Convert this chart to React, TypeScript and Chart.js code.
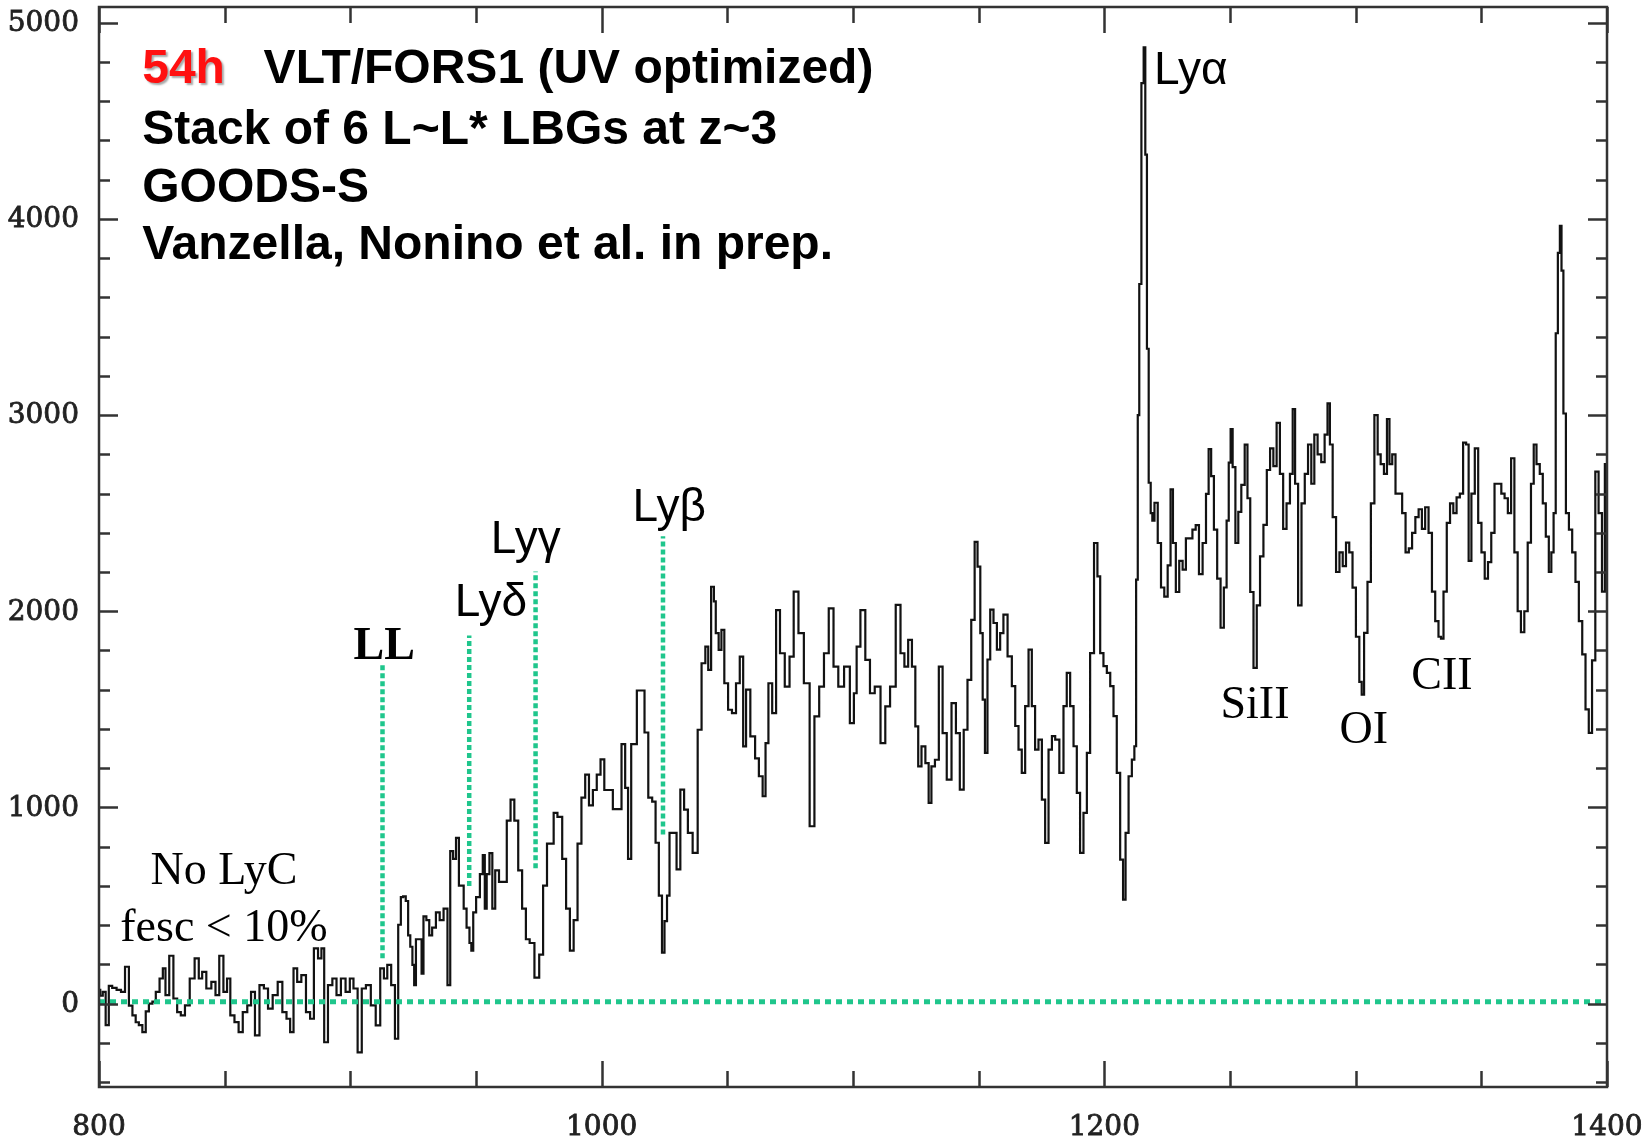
import React, { useEffect, useRef } from "react";
import { Chart, registerables } from "chart.js";

Chart.register(...registerables);

// ---------- axis ranges and ticks ----------
const X_RANGE = [800, 1400];
const Y_RANGE = [-425, 5080];
const xMajorTicks = [800, 1000, 1200, 1400];
const xMinorTicks = [850, 900, 950, 1050, 1100, 1150, 1250, 1300, 1350];
const yMajorTicks = [0, 1000, 2000, 3000, 4000, 5000];
const yMinorTicks = [-400, -200, 200, 400, 600, 800, 1200, 1400, 1600, 1800, 2200, 2400, 2600, 2800, 3200, 3400, 3600, 3800, 4200, 4400, 4600, 4800];

// ---------- spectrum: [rest wavelength (Å), flux] ----------
const lymanContinuum: [number, number][] = [
  [800, 70], [801, 40], [802, 60], [803.3, -110], [804.5, 90], [806, 80], [808, 70], [809.5, 60], [811.2, 188], [812.6, -10],
  [814, -60], [815.2, -95], [816.5, -110], [818, -145], [819.2, -40], [820.5, 0], [822, 10], [823.2, 60], [825, 128], [825.8, 180],
  [827.1, 43], [828.8, 244], [830.4, 26], [831.8, -43], [833.3, -60], [835.1, -9], [837.1, 128], [839, 231], [840.4, 128], [841.7, 162],
  [843.7, 77], [845.7, 111], [847, 43], [848.7, 244], [850.3, 60], [851.6, 128], [852.9, -60], [854.9, -94], [856.2, -145], [858.2, -43],
  [859.8, -9], [861.2, 60], [862.9, -162], [864.8, 94], [866.4, 77], [868.1, -26], [870.1, 43], [872.1, 111], [873.8, -43], [875.4, -77],
  [876.7, -145], [878.1, 180], [879.6, 111], [881.4, 145], [883.3, -43], [884.7, -77], [886.3, 282], [888, 231], [889, 282], [890.2, -197],
  [892, 94], [893.7, 128], [895.3, 43], [897.2, 128], [899, 60], [900.6, 128], [901.9, 77], [903.9, -248], [905.2, 77], [907.2, 94],
  [909.1, -9], [911.1, -111], [912.7, 180], [914, 128], [915.4, 197], [917.1, 94], [918.4, -179],
];

const lymanForest: [number, number][] = [
  [919.7, 402], [920.5, 543], [921.5, 547], [922.6, 523], [923.4, 348], [924.3, 290], [925.1, 197], [925.7, 94], [926.5, 328], [928, 328],
  [928.7, 153], [929.5, 445], [931, 426], [931.8, 348], [933.3, 387], [934.8, 465], [936.3, 426], [937.9, 484], [939.4, 94], [940.1, 777],
  [941.7, 738], [942.4, 845], [944, 601], [944.7, 601], [945.5, 484], [947, 387], [947.8, 309], [948.5, 270], [949.3, 465], [950.8, 543],
  [952.3, 660], [953.1, 757], [953.9, 484], [954.6, 660], [956.1, 767], [956.9, 484], [958.4, 679], [959.9, 621], [961.5, 621], [963, 933],
  [964.5, 1040], [966, 933], [967.6, 679], [969.1, 484], [970.6, 328], [972.1, 309], [974.4, 133], [975.9, 250], [977.5, 601], [979, 816],
  [980.5, 816], [981.3, 972], [983.5, 952], [985.1, 738], [986.6, 484], [988.1, 270], [989.6, 426], [991.2, 816], [992.7, 1050], [994.2, 1167],
  [995.7, 1011], [997.3, 1089], [998.8, 1167], [1000.3, 1245], [1001.8, 1089], [1003.3, 1089], [1005.6, 991], [1007.1, 991], [1008.7, 1323], [1010, 1100],
  [1011, 738], [1012.5, 1323], [1013.2, 1323], [1014.8, 1596], [1016.3, 1596], [1017.8, 1382], [1019.3, 1050], [1020.9, 1030], [1022, 820], [1023.5, 550],
  [1024.5, 260], [1025.5, 420], [1026.5, 550], [1027.5, 870], [1029, 870], [1030.6, 684], [1032, 1091], [1033.6, 989], [1035, 870], [1037.4, 768],
  [1039, 1396], [1040.5, 1735], [1042, 1820], [1042.8, 1701], [1044.3, 2125], [1045, 2050], [1045.8, 1888], [1047.3, 1803], [1048, 1905], [1049.6, 1633],
  [1051, 1498], [1052.7, 1481], [1054.2, 1633], [1055.7, 1769], [1056.9, 1311], [1058, 1600], [1060.3, 1362], [1061.8, 1250], [1063.3, 1159], [1064.8, 1057],
  [1065.6, 1328], [1067.1, 1633], [1068.6, 1481], [1070.2, 2006], [1071.7, 1786], [1074, 1616], [1075.5, 1769], [1077.3, 2100], [1079.3, 1888], [1081.6, 1633],
  [1083.9, 904], [1085.4, 1464], [1087.7, 1616], [1089.2, 1786], [1091.5, 2015], [1093, 1718], [1095.3, 1616], [1097.6, 1718], [1099.9, 1430], [1100.8, 1582],
  [1102.1, 1820], [1103.8, 2006], [1106, 1752], [1107.5, 1582], [1109.8, 1616], [1112.1, 1328], [1113.6, 1515], [1115.9, 1616], [1118.1, 2032], [1119.7, 1786],
  [1121.2, 1718], [1122.7, 1854], [1124.2, 1718], [1125.4, 1413], [1126.5, 1209], [1128, 1311], [1129.6, 1226], [1130.6, 1023], [1131.8, 1209], [1133.4, 1243],
  [1134.9, 1718], [1136.4, 1379], [1138.2, 1142], [1140.2, 1532], [1141.7, 1379], [1143.3, 1091], [1144.8, 1396], [1146.3, 1650], [1147.8, 1956], [1149, 2354],
  [1150.1, 2227], [1151.2, 1888], [1152, 1550], [1153, 1278], [1154, 1754], [1155.2, 2008], [1156.6, 1940], [1157.9, 1804], [1159.2, 1889], [1160.5, 1983],
  [1162.5, 1770], [1163.9, 1618], [1165.2, 1415], [1166.5, 1295], [1167.8, 1176], [1169.2, 1516], [1170.5, 1804], [1171.8, 1516], [1173.1, 1295], [1174.5, 1346],
  [1175.8, 1040], [1177.1, 819], [1178.5, 1295], [1179.8, 1363], [1181.1, 1346], [1183.1, 1176], [1184.4, 1516], [1185.7, 1686], [1187.1, 1516], [1188.4, 1312],
  [1189.7, 1074], [1191, 768], [1192.4, 972], [1193.7, 1278], [1195, 1787], [1196.8, 2348], [1197.7, 2178], [1199, 1787], [1200.3, 1720], [1201.7, 1686],
  [1203, 1618], [1204.3, 1465], [1205.6, 1176], [1207, 734], [1207.9, 530], [1209, 870], [1210.3, 1159], [1211.6, 1244], [1212.3, 1312],
];

const redContinuum: [number, number][] = [
  [1213, 2161], [1213.6, 3000], [1214.2, 3668], [1215.3, 4692], [1216, 4874], [1216.6, 4328], [1217.3, 3338], [1218, 2655], [1218.9, 2500], [1219.3, 2462],
  [1220.6, 2553], [1221.9, 2348], [1223.2, 2121], [1224.5, 2075], [1225.9, 2234], [1226.8, 2621], [1227.8, 2348], [1229.1, 2098], [1230.5, 2257], [1231.8, 2212],
  [1233.1, 2371], [1234.4, 2371], [1235.7, 2416], [1237, 2439], [1238.3, 2189], [1239.9, 2348], [1241, 2598], [1242, 2826], [1243, 2689], [1244.2, 2416],
  [1245.6, 2166], [1246.9, 1916], [1248.2, 2121], [1249.1, 2462], [1249.9, 2758], [1250.6, 2928], [1251.5, 2735], [1252.8, 2348], [1253.8, 2507], [1255.2, 2644],
  [1256.5, 2849], [1257.4, 2576], [1258.7, 2098], [1260, 1711], [1261.3, 2030], [1262.6, 2280], [1264, 2440], [1265.3, 2720], [1266.6, 2830], [1267.9, 2740],
  [1269.2, 2960], [1270.5, 2700], [1271.8, 2420], [1273.2, 2550], [1274.5, 2700], [1275.4, 3030], [1276.4, 2650], [1277.8, 2030], [1279.1, 2550], [1280.4, 2700],
  [1281.7, 2850], [1283, 2650], [1284.1, 2900], [1285.6, 2800], [1287, 2760], [1288.3, 2900], [1289.3, 3060], [1290.2, 2850], [1291.5, 2480], [1292.9, 2200],
  [1294.2, 2300], [1295.5, 2230], [1296.8, 2350], [1298.1, 2300], [1299.4, 2120], [1300.8, 1870], [1302.1, 1640], [1302.7, 1575], [1304, 1890], [1305.4, 2150],
  [1306.7, 2550], [1308.2, 3000], [1309.3, 2800], [1310.6, 2750], [1311.9, 2700], [1313, 2980], [1313.9, 2750], [1315.2, 2800], [1316.5, 2600], [1317.8, 2600],
  [1319.2, 2500], [1320.5, 2300], [1321.8, 2320], [1323.1, 2400], [1324.4, 2480], [1325.7, 2520], [1327, 2420], [1328.3, 2530], [1329.7, 2400], [1331, 2100],
  [1332.3, 1950], [1333.6, 1870], [1334.3, 1860], [1335.6, 2100], [1336.9, 2450], [1338.2, 2550], [1339.5, 2500], [1340.8, 2580], [1342.1, 2600], [1343.4, 2860],
  [1344.5, 2850], [1345.4, 2257], [1346.7, 2600], [1348.1, 2830], [1349.4, 2450], [1350.7, 2300], [1352, 2166], [1353.3, 2250], [1354.6, 2400], [1355.9, 2650],
  [1357.3, 2650], [1358.6, 2600], [1359.9, 2576], [1361.2, 2500], [1362.5, 2780], [1363.8, 2300], [1365.1, 2000], [1366.4, 1893], [1367.8, 2000], [1369.1, 2350],
  [1370.4, 2650], [1371.3, 2850], [1372.6, 2750], [1373.9, 2700], [1375, 2550], [1376.3, 2380], [1377.4, 2200], [1378.3, 2300], [1379.2, 2500], [1380, 3417],
  [1380.9, 3827], [1381.6, 3964], [1382.2, 3736], [1383.1, 3008], [1384.2, 2500], [1385.5, 2416], [1386.8, 2300], [1388.1, 2150], [1389.5, 1950], [1390.8, 1780],
  [1392.1, 1500], [1393.4, 1380], [1394.7, 1750], [1396, 2712], [1397.3, 2500], [1398.7, 2100], [1399.6, 2750], [1400, 2200],
];

// ---------- marker lines: [wavelength, bottom flux, top flux] ----------
const lymanMarkers: [number, number, number][] = [
  [912.8, 231, 1735], // LL
  [947.3, 600, 1877], // Lyδ
  [973.7, 690, 2202], // Lyγ
  [1024.4, 862, 2382], // Lyβ
];
const zeroLevel = 10;

// ---------- text annotations (data coordinates) ----------
const headerLines = ["Stack of 6 L~L* LBGs at z~3", "GOODS-S", "Vanzella, Nonino et al. in prep."];
const headerFlux = [4384, 4088, 3798];
const headerX = 817.2;
const exposureLabel = { text: "54h", x: 817.2, y: 4694 };
const instrumentLabel = { text: "VLT/FORS1 (UV optimized)", x: 865.5, y: 4694 };
const sansLabels = [
  { text: "Lyα", x: 1219.8, y: 4689 },
  { text: "Lyβ", x: 1012.3, y: 2462 },
  { text: "Lyγ", x: 955.9, y: 2299 },
  { text: "Lyδ", x: 941.5, y: 1978 },
];
const serifLabels = [
  { text: "SiII", x: 1246.2, y: 1455, align: "left" },
  { text: "OI", x: 1293.6, y: 1327, align: "left" },
  { text: "CII", x: 1322.1, y: 1605, align: "left" },
  { text: "No LyC", x: 849.7, y: 612, align: "center" },
  { text: "fesc < 10%", x: 849.7, y: 318, align: "center" },
];
const boldSerifLabels = [{ text: "LL", x: 901.3, y: 1756 }];

const GREEN = "#1fc68c";

const toXY = (arr: [number, number][]) => arr.map(([x, y]) => ({ x, y }));

const decorPlugin = {
  id: "decor",
  afterDraw(chart: any) {
    const { ctx, chartArea: a, scales } = chart;
    const xs = scales.x;
    const ys = scales.y;
    ctx.save();

    // frame
    ctx.strokeStyle = "#333";
    ctx.lineWidth = 2.5;
    ctx.strokeRect(a.left, a.top, a.right - a.left, a.bottom - a.top);

    // ticks
    ctx.lineWidth = 2.5;
    ctx.beginPath();
    const xt = (v: number, len: number) => {
      const px = Math.round(xs.getPixelForValue(v)) + 0.5;
      ctx.moveTo(px, a.bottom);
      ctx.lineTo(px, a.bottom - len);
      ctx.moveTo(px, a.top);
      ctx.lineTo(px, a.top + len);
    };
    const yt = (v: number, len: number) => {
      const py = Math.round(ys.getPixelForValue(v)) + 0.5;
      ctx.moveTo(a.left, py);
      ctx.lineTo(a.left + len, py);
      ctx.moveTo(a.right, py);
      ctx.lineTo(a.right - len, py);
    };
    xMajorTicks.forEach((v) => xt(v, 26));
    xMinorTicks.forEach((v) => xt(v, 16));
    yMajorTicks.forEach((v) => yt(v, 19));
    yMinorTicks.forEach((v) => yt(v, 11));
    ctx.stroke();

    // tick labels (medium weight: fill + thin stroke)
    ctx.fillStyle = "#222";
    ctx.strokeStyle = "#222";
    ctx.lineWidth = 0.8;
    ctx.font = '28px "DejaVu Serif"';
    ctx.textAlign = "right";
    ctx.textBaseline = "middle";
    yMajorTicks.forEach((v) => {
      const py = ys.getPixelForValue(v) + 1;
      ctx.fillText(String(v), a.left - 20, py);
      ctx.strokeText(String(v), a.left - 20, py);
    });
    ctx.textAlign = "center";
    xMajorTicks.forEach((v) => {
      const px = xs.getPixelForValue(v);
      ctx.fillText(String(v), px, a.bottom + 41);
      ctx.strokeText(String(v), px, a.bottom + 41);
    });

    // header
    ctx.textAlign = "left";
    ctx.textBaseline = "alphabetic";
    ctx.font = 'bold 48px "Liberation Sans"';
    ctx.save();
    ctx.shadowColor = "rgba(0,0,0,0.35)";
    ctx.shadowOffsetX = 2;
    ctx.shadowOffsetY = 2;
    ctx.shadowBlur = 2;
    ctx.fillStyle = "#ff1010";
    ctx.fillText(exposureLabel.text, xs.getPixelForValue(exposureLabel.x), ys.getPixelForValue(exposureLabel.y));
    ctx.restore();
    ctx.fillStyle = "#000";
    ctx.fillText(instrumentLabel.text, xs.getPixelForValue(instrumentLabel.x), ys.getPixelForValue(instrumentLabel.y));
    headerLines.forEach((t, i) => ctx.fillText(t, xs.getPixelForValue(headerX), ys.getPixelForValue(headerFlux[i])));

    // line labels
    ctx.font = '46px "Liberation Sans"';
    sansLabels.forEach((l) => ctx.fillText(l.text, xs.getPixelForValue(l.x), ys.getPixelForValue(l.y)));
    ctx.font = '46px "Liberation Serif"';
    serifLabels.forEach((l) => {
      ctx.textAlign = l.align as CanvasTextAlign;
      ctx.fillText(l.text, xs.getPixelForValue(l.x), ys.getPixelForValue(l.y));
    });
    ctx.textAlign = "left";
    ctx.font = 'bold 46px "Liberation Serif"';
    boldSerifLabels.forEach((l) => ctx.fillText(l.text, xs.getPixelForValue(l.x), ys.getPixelForValue(l.y)));

    ctx.restore();
  },
};

export default function App() {
  const ref = useRef<HTMLCanvasElement | null>(null);
  useEffect(() => {
    if (!ref.current) return;
    const spectrum = [...toXY(lymanContinuum), ...toXY(lymanForest), ...toXY(redContinuum)];
    const markerSets = lymanMarkers.map(([x, lo, hi]) => ({
      data: [{ x, y: lo }, { x, y: hi }],
      borderColor: GREEN,
      borderWidth: 4.5,
      borderDash: [5, 3],
      pointRadius: 0,
      order: 0,
    }));
    const chart = new Chart(ref.current, {
      type: "line",
      data: {
        datasets: [
          {
            data: [{ x: X_RANGE[0], y: zeroLevel }, { x: X_RANGE[1], y: zeroLevel }],
            borderColor: GREEN,
            borderWidth: 5,
            borderDash: [6, 5],
            pointRadius: 0,
            order: 0,
          },
          ...markerSets,
          {
            data: spectrum,
            borderColor: "#121212",
            borderWidth: 2.2,
            pointRadius: 0,
            stepped: "middle",
            order: 1,
          },
        ] as any,
      },
      options: {
        animation: false,
        responsive: false,
        devicePixelRatio: 1,
        events: [],
        layout: { padding: { left: 99, right: 45, top: 7, bottom: 59 } },
        scales: {
          x: { type: "linear", min: X_RANGE[0], max: X_RANGE[1], display: false },
          y: { type: "linear", min: Y_RANGE[0], max: Y_RANGE[1], display: false },
        },
        plugins: { legend: { display: false }, tooltip: { enabled: false } },
      },
      plugins: [decorPlugin],
    });
    return () => chart.destroy();
  }, []);
  return (
    <div style={{ position: "absolute", left: 0, top: 0, width: 1652, height: 1146, background: "#fff" }}>
      <canvas ref={ref} width={1652} height={1146} style={{ display: "block" }} />
    </div>
  );
}
